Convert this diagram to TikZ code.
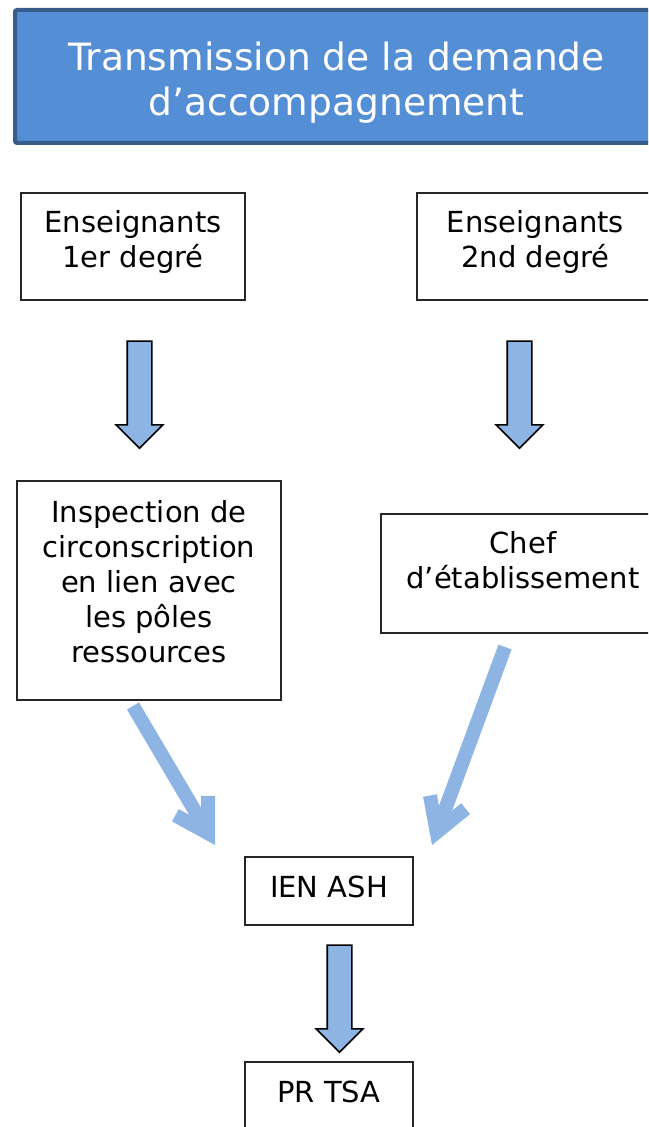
\documentclass[tikz,border=0pt]{standalone}
\usepackage{fontspec}
\setmainfont{DejaVu Sans}
\usetikzlibrary{arrows.meta,shapes.arrows}
\definecolor{titlefill}{RGB}{84,142,213}
\definecolor{titleline}{RGB}{56,93,138}
\definecolor{arrowblue}{RGB}{141,180,226}

\tikzset{
 box/.style={draw=black!85, line width=0.6pt, inner sep=0pt},
 boxtext/.style={align=center, font=\fontsize{14.5}{17.5}\selectfont},
 downarrow/.style={single arrow, draw=black, line width=0.8pt, fill=arrowblue,
  minimum height=53.5pt, minimum width=22.5pt, single arrow head extend=5.5pt,
  shape border rotate=270, inner sep=5.75pt},
 slantarrow/.style={arrowblue, line width=7pt, -{Straight Barb[length=16pt,width=19pt]}}
}

\begin{document}
\begin{tikzpicture}[x=0.5pt,y=-0.5pt]
 \path[use as bounding box, clip] (0,0) rectangle (648,1127);
 % title
 \node[draw=titleline, line width=2pt, fill=titlefill, rounded corners=1pt,
  minimum width=321.5pt, minimum height=66.5pt,
  label={[align=center, text=white, font=\fontsize{18.8}{22.5}\selectfont, yshift=-3pt]center:{Transmission de la demande\\d’accompagnement}}]
  (title) at (336.5,76.5) {};
 % boxes
 \node[box, minimum width=112pt, minimum height=53.5pt,
  label={[boxtext, yshift=2pt]center:{Enseignants\\1er degré}}] (ens1) at (133,246.5) {};
 \node[box, minimum width=118.5pt, minimum height=53.5pt,
  label={[boxtext, yshift=2pt]center:{Enseignants\\2nd degré}}] (ens2) at (535.5,246.5) {};
 \node[box, minimum width=132pt, minimum height=109.5pt,
  label={[boxtext, yshift=4.5pt]center:{Inspection de\\circonscription\\en lien avec\\les pôles\\ressources}}]
  (insp) at (149,590.5) {};
 \node[box, minimum width=142pt, minimum height=59.5pt,
  label={[boxtext, yshift=6.5pt]center:{Chef\\d’établissement}}] (chef) at (523,573.5) {};
 \node[box, minimum width=84pt, minimum height=34pt,
  label={[boxtext, yshift=2pt]center:{IEN ASH}}] (ien) at (329,891) {};
 \node[box, minimum width=84pt, minimum height=35pt,
  label={[boxtext, yshift=2.5pt]center:{PR TSA}}] (prtsa) at (329,1097) {};
 % block arrows
 \node[downarrow] (a1) at (139.5,388.5) {};
 \node[downarrow] (a2) at (519.5,388.5) {};
 \node[downarrow] (a3) at (339.5,992.5) {};
 % slanted arrows
 \coordinate (d1s) at (133,706);
 \coordinate (d1e) at (215,845);
 \coordinate (d2s) at (505,647);
 \coordinate (d2e) at (432,845);
 \draw[slantarrow] (d1s) -- (d1e);
 \draw[slantarrow] (d2s) -- (d2e);
\end{tikzpicture}
\end{document}
